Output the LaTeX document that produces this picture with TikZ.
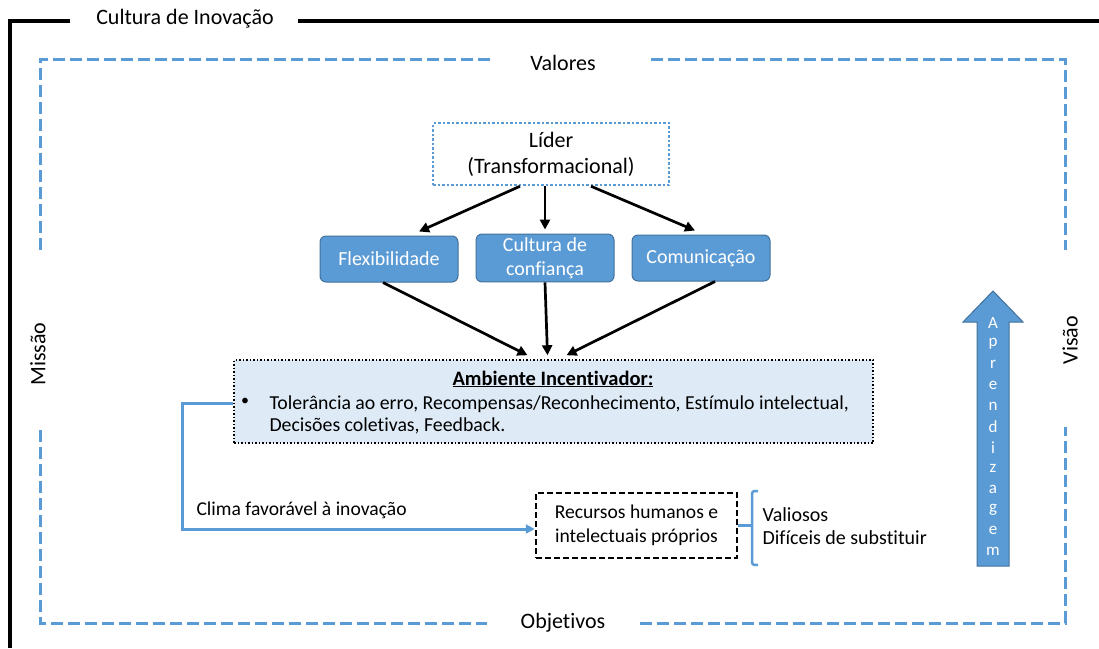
\documentclass[tikz,border=0pt]{standalone}
\usepackage{fontspec}
\setmainfont{Carlito}[Ligatures=NoCommon]
\usepackage{xcolor}
\definecolor{azulcaixa}{HTML}{5B9BD5}
\definecolor{azulborda}{HTML}{41719C}
\definecolor{azulclaro}{HTML}{DEEBF7}
\usetikzlibrary{positioning,arrows.meta}

\begin{document}
\begin{tikzpicture}[x=1pt, y=-1pt,
		caixa/.style={draw=azulborda, fill=azulcaixa, rounded corners=6pt, text=white, minimum width=138pt, minimum height=46pt, align=center, font=\fontsize{20}{24}\selectfont, line width=1pt},
		seta/.style={-{Triangle[length=10pt,width=10pt]}, line width=2.7pt},
		moldura/.style={azulcaixa, line width=3pt, dash pattern=on 12pt off 5pt},
		rotulo/.style={font=\fontsize{22}{26}\selectfont},
		texto/.style={font=\fontsize{19.6}{23.5}\selectfont}]
				\useasboundingbox (0,0) rectangle (1099,648);
				% moldura preta
				\node[rotulo] (cultura) at (185,19) {Cultura de Inovação};
				\draw[line width=4.5pt] (70,21) -- (10,21) -- (10,648);
				\draw[line width=4.5pt] (298,21) -- (1099,21);
				% moldura azul tracejada
				\draw[moldura] (490,59) -- (40,59) -- (40,253);
				\draw[moldura] (651,59) -- (1065,59) -- (1065,250);
				\draw[moldura] (40,430) -- (40,623) -- (487,623);
				\draw[moldura] (640,623) -- (1065,623) -- (1065,427);
				\node[rotulo] (valores) at (563,63) {Valores};
				\node[rotulo] (objetivos) at (563,623) {Objetivos};
				\node[rotulo, rotate=90] (missao) at (38,354) {Missão};
				\node[rotulo, rotate=90] (visao) at (1070,340) {Visão};
				% lider e caixas
				\node[draw=azulcaixa, dotted, line width=2.5pt, minimum width=236pt, minimum height=62pt, align=center, rotulo] (lider) at (551,154) {Líder\\(Transformacional)};
				\node[caixa] (flex) at (389,259) {Flexibilidade};
				\node[caixa] (confianca) at (545,258) {Cultura de\\confiança};
				\node[caixa] (comunic) at (701,258) {Comunicação};
				\draw[seta] ([xshift=-31pt]lider.south) -- ([xshift=30pt,yshift=4pt]flex.north);
				\draw[seta] (lider.south -| confianca.north) -- ([yshift=4pt]confianca.north);
				\draw[seta] ([xshift=40pt]lider.south) -- ([xshift=-6pt,yshift=4pt]comunic.north);
				% ambiente
				\node[draw, dotted, fill=azulclaro, line width=1.5pt, minimum width=639pt, minimum height=83pt] (ambiente) at (553.5,401.5) {};
				\draw[seta] ([xshift=-6pt]flex.south) -- ([xshift=-26pt,yshift=4pt]ambiente.north);
				\draw[seta] (confianca.south) -- ([xshift=-6pt,yshift=4pt]ambiente.north);
				\draw[seta] ([xshift=14pt]comunic.south) -- ([xshift=13pt,yshift=4pt]ambiente.north);
				\node[font=\fontsize{20.5}{24}\selectfont\bfseries] (titulo) at (553,379) {\underline{Ambiente Incentivador:}};
				\node[font=\fontsize{16}{18}\selectfont] (bala) at (245,402) {\textbullet};
				\node[font=\fontsize{19.8}{23.5}\selectfont, anchor=west] (linha1) at (266,404) {Tolerância ao erro, Recompensas/Reconhecimento, Estímulo intelectual,};
				\node[font=\fontsize{19.8}{23.5}\selectfont, anchor=west] (linha2) at (266,426) {Decisões coletivas, Feedback.};
				% recursos
				\node[draw, dash pattern=on 6pt off 3pt, line width=2.5pt, minimum width=201pt, minimum height=65pt, align=center, texto] (recursos) at (636.5,525.5) {Recursos humanos e\\intelectuais próprios};
				\draw[azulcaixa, line width=3pt, -{Triangle[length=9pt,width=9pt]}] ([yshift=-2pt]ambiente.west) -- ++(-51,0) |- ([yshift=-3.5pt]recursos.west);
				\node[texto, anchor=west] (clima) at (193,510) {Clima favorável à inovação};
				\draw[azulcaixa, line width=2.5pt] (758,491) .. controls (752,491) .. (752,497) -- (752,559) .. controls (752,565) .. (758,565);
				\draw[azulcaixa, line width=2.5pt] (recursos.east) -- ++(15,0);
				\node[font=\fontsize{20}{23.5}\selectfont, anchor=west, align=left] (qualidades) at (759,526) {Valiosos\\Difíceis de substituir};
				% seta aprendizagem
				\draw[draw=azulborda, fill=azulcaixa, line width=1pt] (977,566) -- (977,322) -- (963,322) -- (993,291) -- (1023,322) -- (1009,322) -- (1009,566) -- cycle;
				\foreach \letra [count=\i] in {A,p,r,e,n,d,i,z,a,g,e,m}
					\node[text=white, font=\fontsize{17}{18}\selectfont] (letra\i) at (993,302+20.8*\i) {\letra};
			\end{tikzpicture}
\end{document}
